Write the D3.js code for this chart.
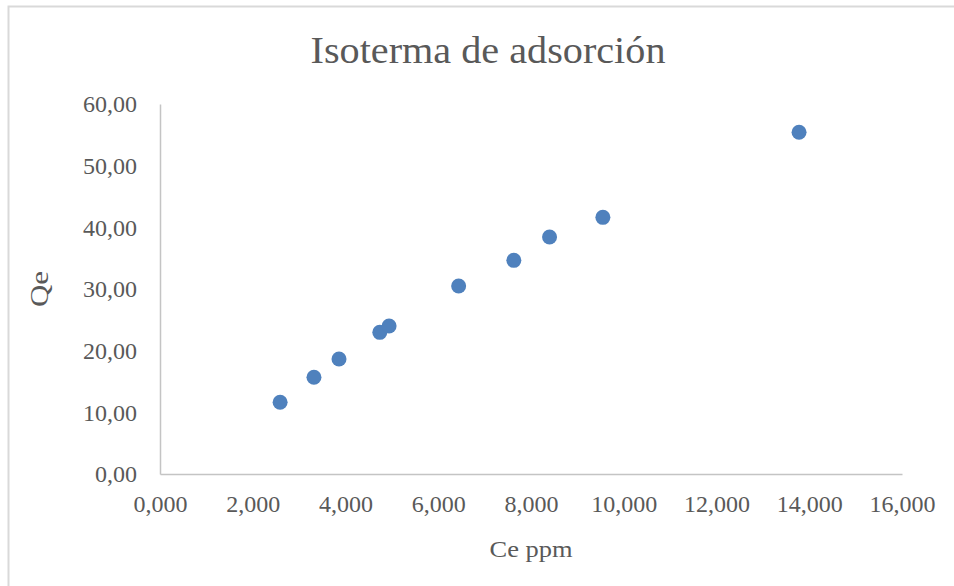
<!DOCTYPE html>
<html>
<head>
<meta charset="utf-8">
<script src="https://cdn.jsdelivr.net/npm/d3@7"></script>
<style>
  html, body { margin: 0; padding: 0; background: #ffffff; }
  svg { display: block; }
  text { font-family: "Liberation Serif", "Times New Roman", serif; fill: #595959; }
</style>
</head>
<body>
<svg id="chart" width="954" height="586"></svg>
<script>
// Equilibrium concentration (Ce, ppm) and adsorbed quantity (Qe)
const ceValues = [2.59, 3.32, 3.86, 4.74, 4.94, 6.44, 7.63, 8.40, 9.55, 13.78];
const qeValues = [11.63, 15.68, 18.65, 22.97, 24.00, 30.49, 34.65, 38.43, 41.62, 55.41];
const xTicks = [0, 2, 4, 6, 8, 10, 12, 14, 16];
const yTicks = [0, 10, 20, 30, 40, 50, 60];

const titleText = "Isoterma de adsorción";
const xTitle = "Ce ppm";
const yTitle = "Qe";

const locale = d3.formatLocale({ decimal: ",", thousands: ".", grouping: [3], currency: ["", ""] });
const fmtX = locale.format(".3f");
const fmtY = locale.format(".2f");

const svg = d3.select("#chart");
const plot = { left: 160, right: 902, top: 104, bottom: 474 };

const x = d3.scaleLinear().domain([0, 16]).range([plot.left, plot.right]);
const y = d3.scaleLinear().domain([0, 60]).range([plot.bottom, plot.top]);

// chart area outline
svg.append("rect")
  .attr("x", 8.5).attr("y", 6.5)
  .attr("width", 960).attr("height", 600)
  .attr("fill", "#ffffff")
  .attr("stroke", "#d9d9d9")
  .attr("stroke-width", 2);

// title
svg.append("text")
  .attr("x", 488).attr("y", 62.5)
  .attr("text-anchor", "middle")
  .attr("font-size", 38.5)
  .attr("textLength", 355)
  .attr("lengthAdjust", "spacingAndGlyphs")
  .text(titleText);

// y axis
const yAxis = svg.append("g")
  .attr("transform", `translate(${plot.left},0)`)
  .call(d3.axisLeft(y).tickValues(yTicks).tickFormat(fmtY).tickSize(0).tickPadding(23));
yAxis.select(".domain").attr("stroke", "#c4c4c4").attr("stroke-width", 1.5);
yAxis.selectAll("text")
  .attr("font-size", 24)
  .attr("fill", "#595959")
  .attr("font-family", "Liberation Serif, serif")
  .attr("dy", "0.32em");

// x axis
const xAxis = svg.append("g")
  .attr("transform", `translate(0,${plot.bottom})`)
  .call(d3.axisBottom(x).tickValues(xTicks).tickFormat(fmtX).tickSize(0).tickPadding(21));
xAxis.select(".domain").attr("stroke", "#c4c4c4").attr("stroke-width", 1.5);
xAxis.selectAll("text")
  .attr("font-size", 24)
  .attr("fill", "#595959")
  .attr("font-family", "Liberation Serif, serif")
  .attr("dy", "0.71em");

// axis titles
svg.append("text")
  .attr("x", (plot.left + plot.right) / 2).attr("y", 557)
  .attr("text-anchor", "middle")
  .attr("font-size", 24)
  .attr("textLength", 83)
  .attr("lengthAdjust", "spacingAndGlyphs")
  .text(xTitle);

svg.append("text")
  .attr("transform", `translate(48,${(plot.top + plot.bottom) / 2}) rotate(-90)`)
  .attr("text-anchor", "middle")
  .attr("font-size", 26)
  .attr("textLength", 36)
  .attr("lengthAdjust", "spacingAndGlyphs")
  .text(yTitle);

// data points
const data = ceValues.map((c, i) => ({ ce: c, qe: qeValues[i] }));
svg.append("g")
  .selectAll("circle")
  .data(data)
  .join("circle")
  .attr("cx", d => x(d.ce))
  .attr("cy", d => y(d.qe))
  .attr("r", 7.5)
  .attr("fill", "#4f81bd");
</script>
</body>
</html>
